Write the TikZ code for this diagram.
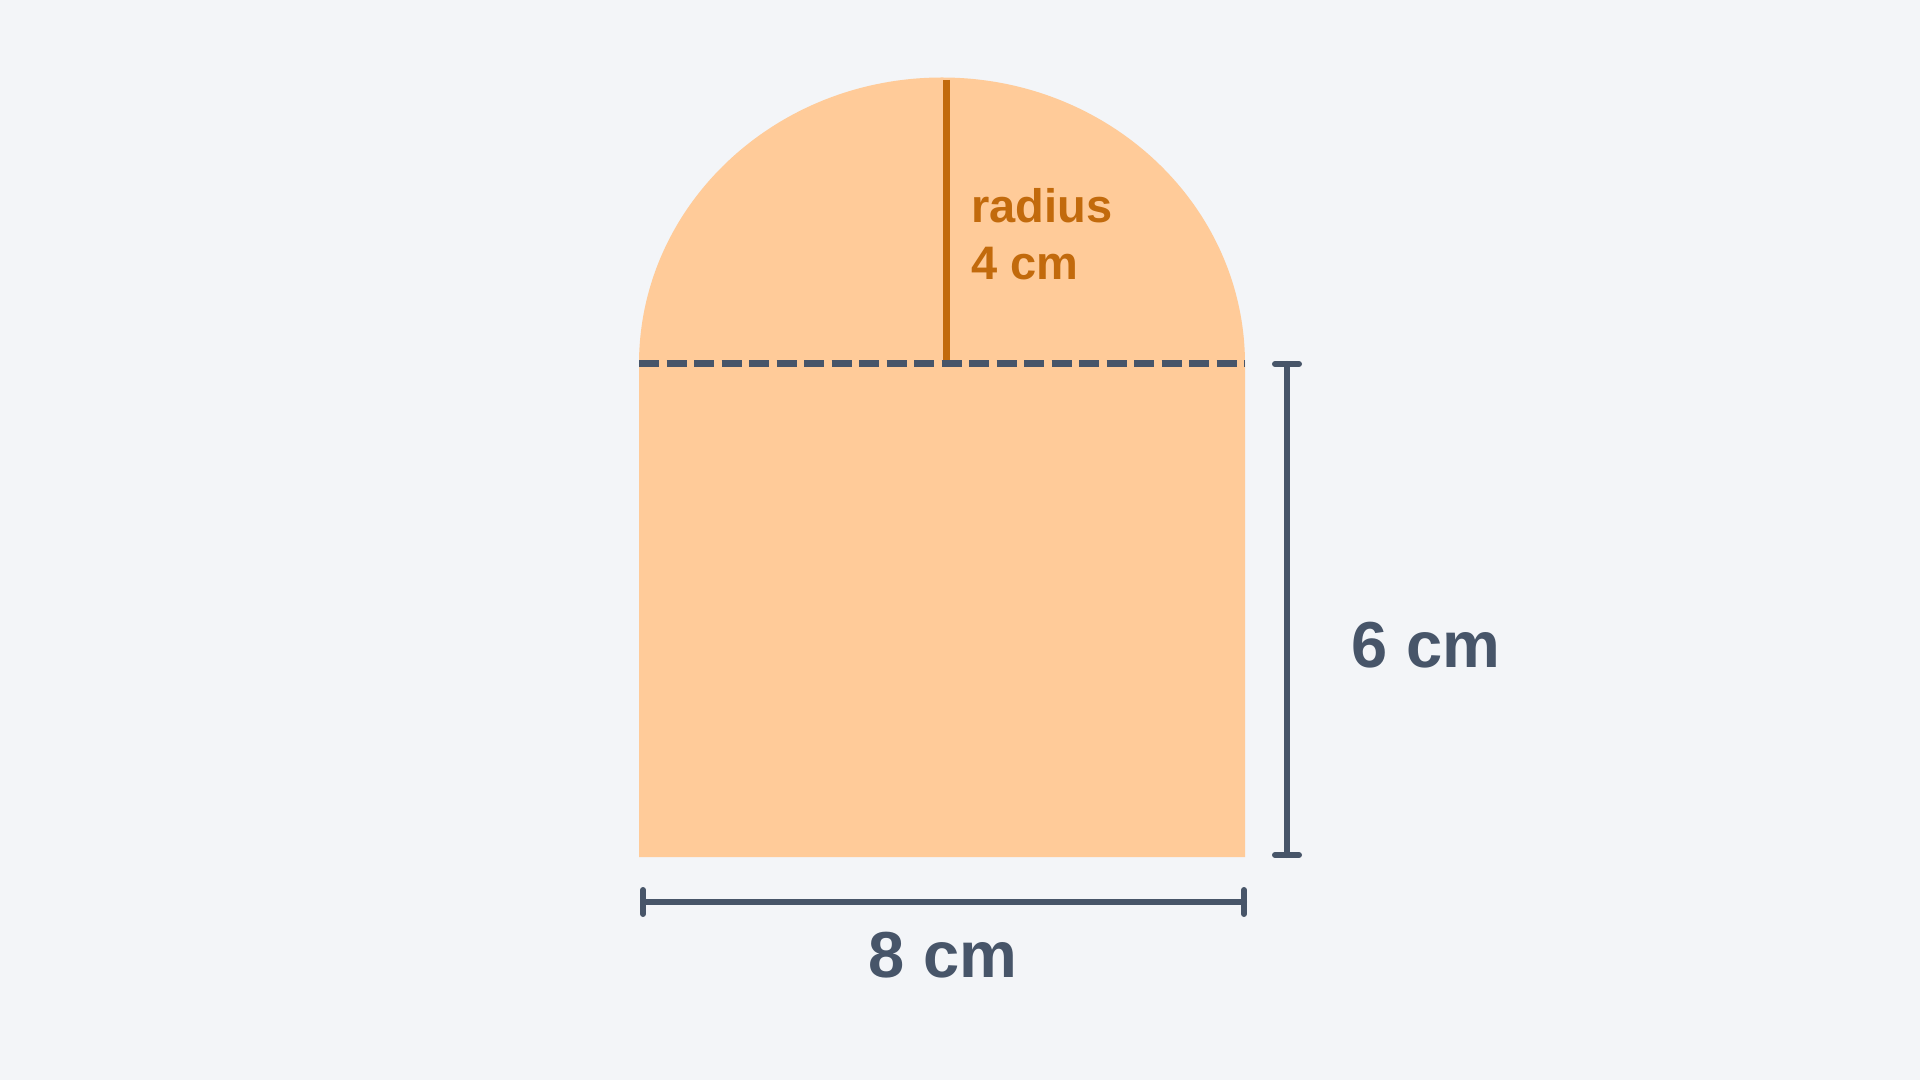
\documentclass[tikz,border=0pt]{standalone}
\usepackage{fontspec}
\setmainfont{Liberation Sans}
\definecolor{bgcol}{RGB}{243,245,248}
\definecolor{peach}{RGB}{255,203,153}
\definecolor{slate}{RGB}{71,85,105}
\definecolor{rust}{RGB}{194,106,12}
\tikzset{
  dimline/.style={line width=6pt,slate,line cap=round},
  dimlabel/.style={text=slate,font=\fontsize{65}{70}\selectfont\bfseries,inner sep=0pt}
}
\begin{document}
\begin{tikzpicture}[x=1pt,y=1pt]
\fill[bgcol] (0,0) rectangle (1920,1080);
\useasboundingbox (0,0) rectangle (1920,1080);
% the shape
\fill[peach] (639,223) -- (639,716) arc[start angle=180,end angle=0,x radius=303,y radius=286.5] -- (1245,223) -- cycle;
\draw[line width=7pt,rust] (946,1000) -- (946,716);
\draw[line width=7pt,slate,dash pattern=on 20pt off 7.5pt] (639,716) -- (1245,716);
\node[anchor=base west,text=rust,font=\fontsize{47}{57}\selectfont\bfseries,inner sep=0pt] (rad) at (971,857) {radius};
\node[anchor=base west,text=rust,font=\fontsize{47}{57}\selectfont\bfseries,inner sep=0pt] (radval) at (971,800) {4 cm};
% height
\coordinate (htop) at (1287,716);
\coordinate (hbot) at (1287,225);
\draw[dimline] (htop) -- (hbot);
\draw[dimline] ([xshift=-12pt]htop) -- ([xshift=12pt]htop);
\draw[dimline] ([xshift=-12pt]hbot) -- ([xshift=12pt]hbot);
\node[dimlabel] (hlab) at (1426,435) {6 cm};
% width
\coordinate (wleft) at (643,178);
\coordinate (wright) at (1244,178);
\draw[dimline] (wleft) -- (wright);
\draw[dimline] ([yshift=-12pt]wleft) -- ([yshift=12pt]wleft);
\draw[dimline] ([yshift=-12pt]wright) -- ([yshift=12pt]wright);
\node[dimlabel] (wlab) at (943,125) {8 cm};
\end{tikzpicture}
\end{document}
